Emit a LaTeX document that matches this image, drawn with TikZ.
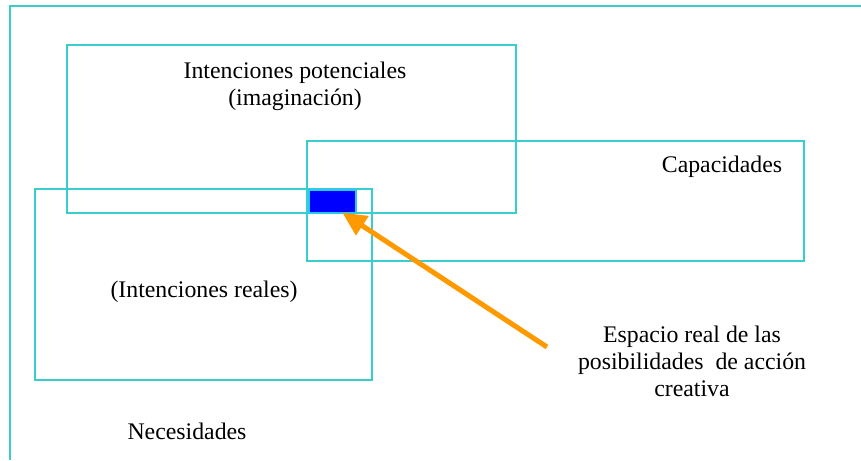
\documentclass[tikz,border=0pt]{standalone}
\usepackage{fontspec}
\setmainfont{Liberation Serif}
\usepackage{tikz}
\usetikzlibrary{arrows.meta}
\definecolor{turquesa}{RGB}{56,206,206}
\definecolor{celeste}{RGB}{40,200,240}
\definecolor{naranja}{RGB}{255,153,0}
\tikzset{
x=1pt, y=-1pt, % one unit is one pixel of the page
caja/.style={draw=turquesa, line width=1.6pt}, % the big rectangles
hueco/.style={draw=celeste, fill=blue, line width=1.6pt, inner sep=0pt}, % the small filled box
texto/.style={font=\fontsize{23.8}{27}\selectfont, align=center, inner sep=0pt}, % every label
flecha/.style={draw=naranja, line width=5pt, -{Triangle[length=24pt,width=22pt]}}, % the orange arrow
}
\begin{document}
\begin{tikzpicture}
		\useasboundingbox (0,0) rectangle (861,460);
		\draw[caja] (861,6) -- (10,6) -- (10,460);
		\draw[caja] (67,45) rectangle (516,213);
		\draw[caja] (307,141) rectangle (804,261);
		\draw[caja] (35,189) rectangle (372,380);
		\node[hueco, minimum width=47pt, minimum height=23pt, anchor=north west] (hueco) at (308,189) {};

		\node[texto] (potenciales) at (295,86) {Intenciones potenciales\\(imaginación)};
		\node[texto] (capacidades) at (722,167) {Capacidades};
		\node[texto] (reales) at (204,292) {(Intenciones reales)};
		\node[texto] (necesidades) at (187,431) {Necesidades};
		\node[texto] (espacio) at (692,361) {Espacio real de las\\posibilidades\ \ de acción\\creativa};

		\coordinate (cola) at (547,347);
		\draw[flecha] (cola) -- ([xshift=10pt,yshift=1pt]hueco.south);
	\end{tikzpicture}
\end{document}
